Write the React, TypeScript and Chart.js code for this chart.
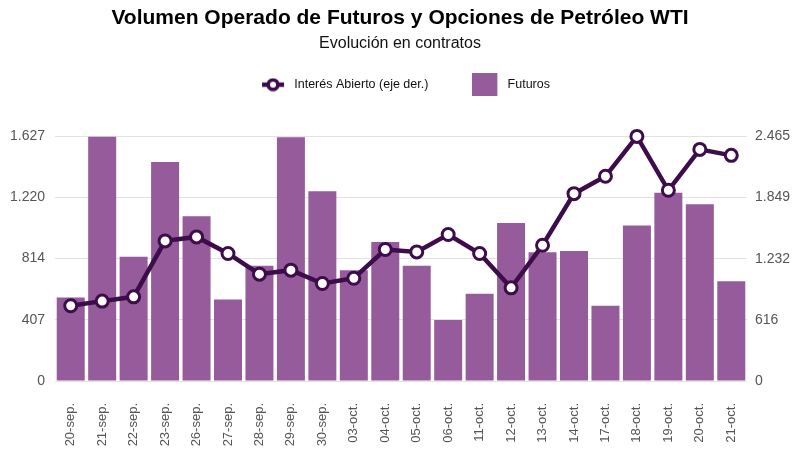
import { useEffect, useRef } from 'react';
import { Chart, registerables } from 'chart.js';

Chart.register(...registerables);

const FONT = "'Liberation Sans', Arial, sans-serif";
const BAR_COLOR = '#955B9B';
const LINE_COLOR = '#3D0C4A';

const dates = [
  '20-sep.', '21-sep.', '22-sep.', '23-sep.', '26-sep.', '27-sep.', '28-sep.', '29-sep.', '30-sep.',
  '03-oct.', '04-oct.', '05-oct.', '06-oct.', '11-oct.', '12-oct.', '13-oct.', '14-oct.', '17-oct.',
  '18-oct.', '19-oct.', '20-oct.', '21-oct.',
];

// Futuros (eje izq.)
const futuros = [
  556, 1627, 826, 1456, 1096, 542, 766, 1622, 1262,
  737, 925, 766, 405, 580, 1051, 857, 865, 500,
  1034, 1253, 1175, 664,
];

// Interés abierto (eje der.)
const interesAbierto = [
  758, 805, 848, 1412, 1452, 1285, 1077, 1117, 983,
  1036, 1325, 1301, 1476, 1285, 939, 1368, 1888, 2063,
  2465, 1922, 2334, 2274,
];

const leftTicks = [0, 407, 814, 1220, 1627];
const rightTicks = [0, 616, 1232, 1849, 2465];

const fmt = (v: number) => Math.round(v).toString().replace(/\B(?=(\d{3})+(?!\d))/g, '.');

// legend icons: 29px wide canvases, icon pushed to the right side
function lineIcon() {
  const c = document.createElement('canvas');
  c.width = 29;
  c.height = 14;
  const g = c.getContext('2d')!;
  g.strokeStyle = LINE_COLOR;
  g.lineWidth = 4.5;
  g.beginPath();
  g.moveTo(3, 7);
  g.lineTo(25, 7);
  g.stroke();
  g.fillStyle = '#ffffff';
  g.lineWidth = 3.5;
  g.beginPath();
  g.arc(14, 7, 4.8, 0, Math.PI * 2);
  g.fill();
  g.stroke();
  return c;
}

function barIcon() {
  const c = document.createElement('canvas');
  c.width = 29;
  c.height = 23;
  const g = c.getContext('2d')!;
  g.fillStyle = BAR_COLOR;
  g.fillRect(0, 0, 25, 23);
  return c;
}

export default function App() {
  const canvasRef = useRef<HTMLCanvasElement>(null);

  useEffect(() => {
    document.body.style.margin = '0';
    const ctx = canvasRef.current?.getContext('2d');
    if (!ctx) return;

    const icons = [lineIcon(), barIcon()];

    // fixed legend height, and nudge it right (centering counts the trailing padding)
    const legendTweak = {
      id: 'legendTweak',
      beforeInit(chart: any) {
        const legend = chart.legend;
        const fit = legend.fit;
        legend.fit = function () {
          fit.bind(legend)();
          this.height = 102;
        };
        const draw = legend.draw;
        legend.draw = function () {
          const c = chart.ctx;
          c.save();
          c.translate(4.5, 0);
          draw.bind(legend)();
          c.restore();
        };
      },
    };

    const chart = new Chart(ctx, {
      type: 'bar',
      data: {
        labels: dates,
        datasets: [
          {
            type: 'line',
            label: 'Interés Abierto (eje der.)',
            data: interesAbierto,
            yAxisID: 'y1',
            borderColor: LINE_COLOR,
            borderWidth: 4.5,
            pointRadius: 6,
            pointBorderWidth: 3,
            pointBackgroundColor: '#ffffff',
            pointBorderColor: LINE_COLOR,
            tension: 0,
            clip: false,
          } as any,
          {
            type: 'bar',
            label: 'Futuros',
            data: futuros,
            yAxisID: 'y',
            backgroundColor: BAR_COLOR,
            barPercentage: 0.89,
            categoryPercentage: 1,
          },
        ],
      },
      options: {
        responsive: true,
        maintainAspectRatio: false,
        animation: false,
        layout: { padding: 0 },
        plugins: {
          title: {
            display: true,
            text: 'Volumen Operado de Futuros y Opciones de Petróleo WTI',
            color: '#000000',
            font: { family: FONT, size: 21, weight: 'bold' },
            padding: { top: 6, bottom: 0 },
          },
          subtitle: {
            display: true,
            text: 'Evolución en contratos',
            color: '#111111',
            font: { family: FONT, size: 16 },
            padding: { top: 3, bottom: -19 },
          },
          legend: {
            display: true,
            labels: {
              usePointStyle: true,
              pointStyleWidth: 29,
              boxHeight: 13,
              padding: 44,
              color: '#111111',
              font: { family: FONT, size: 12.5 },
              generateLabels: (c: Chart) =>
                Chart.defaults.plugins.legend.labels
                  .generateLabels(c)
                  .map((it: any, i: number) => ({ ...it, pointStyle: icons[i] })),
            },
          },
          tooltip: { enabled: false },
        },
        scales: {
          x: {
            grid: { display: false, drawTicks: false },
            border: { display: false },
            ticks: {
              color: '#555555',
              font: { family: FONT, size: 13 },
              minRotation: 90,
              maxRotation: 90,
              padding: 22,
            },
            afterFit: (s: any) => {
              s.height = 76;
            },
          },
          y: {
            position: 'left',
            min: 0,
            max: 1627,
            afterBuildTicks: (s: any) => {
              s.ticks = leftTicks.map((v) => ({ value: v }));
            },
            grid: { color: '#e2e2e2', lineWidth: 1, drawTicks: false },
            border: { display: false },
            ticks: {
              color: '#555555',
              font: { family: FONT, size: 14 },
              padding: 10,
              callback: (v: any) => fmt(Number(v)),
            },
            afterFit: (s: any) => {
              s.width = 55;
            },
          },
          y1: {
            position: 'right',
            min: 0,
            max: 2465,
            afterBuildTicks: (s: any) => {
              s.ticks = rightTicks.map((v) => ({ value: v }));
            },
            grid: { display: false, drawTicks: false },
            border: { display: false },
            ticks: {
              color: '#555555',
              font: { family: FONT, size: 14 },
              padding: 8,
              callback: (v: any) => fmt(Number(v)),
            },
            afterFit: (s: any) => {
              s.width = 53;
            },
          },
        },
      },
      plugins: [legendTweak],
    });

    return () => chart.destroy();
  }, []);

  return (
    <div style={{ position: 'relative', width: 800, height: 457, background: '#ffffff' }}>
      <canvas ref={canvasRef} />
    </div>
  );
}
